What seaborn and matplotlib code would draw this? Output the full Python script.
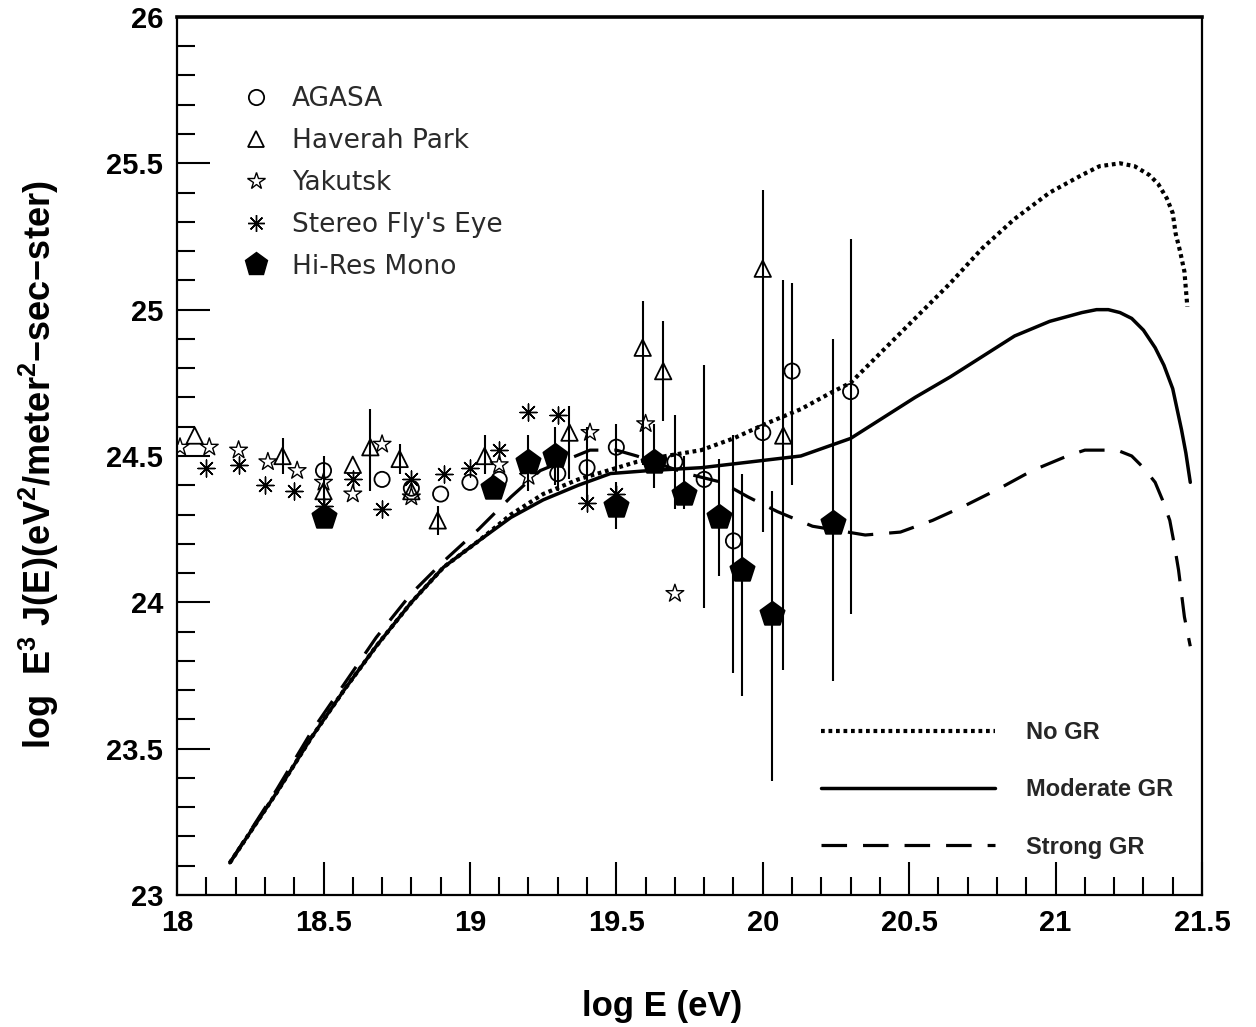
import matplotlib
matplotlib.use("Agg")
import matplotlib.pyplot as plt
from matplotlib.lines import Line2D
from matplotlib.ticker import MultipleLocator
import seaborn as sns

# ---- data ----
# AGASA (open circles)
agasa_x = [18.50, 18.70, 18.80, 18.90, 19.00, 19.10, 19.30, 19.40, 19.50, 19.70, 19.80, 19.90, 20.00, 20.10, 20.30]
agasa_y = [24.45, 24.42, 24.39, 24.37, 24.41, 24.42, 24.44, 24.46, 24.53, 24.48, 24.42, 24.21, 24.58, 24.79, 24.72]
agasa_lo = [24.33, 24.42, 24.39, 24.37, 24.41, 24.42, 24.38, 24.33, 24.44, 24.32, 23.98, 23.76, 24.24, 24.40, 23.96]
agasa_hi = [24.50, 24.42, 24.39, 24.37, 24.41, 24.42, 24.50, 24.60, 24.61, 24.64, 24.81, 24.57, 24.90, 25.09, 25.24]

# Haverah Park (open triangles)
hp_x = [18.06, 18.36, 18.50, 18.60, 18.66, 18.76, 18.80, 18.89, 19.05, 19.34, 19.59, 19.66, 20.00, 20.07]
hp_y = [24.57, 24.50, 24.38, 24.47, 24.53, 24.49, 24.38, 24.28, 24.50, 24.58, 24.87, 24.79, 25.14, 24.57]
hp_lo = [24.57, 24.44, 24.38, 24.47, 24.38, 24.44, 24.38, 24.23, 24.44, 24.42, 24.47, 24.62, 24.90, 23.77]
hp_hi = [24.57, 24.56, 24.38, 24.47, 24.66, 24.54, 24.38, 24.33, 24.57, 24.67, 25.03, 24.96, 25.41, 25.10]

# Yakutsk (open stars)
yk_x = [18.01, 18.11, 18.21, 18.31, 18.41, 18.50, 18.60, 18.70, 18.80, 19.10, 19.20, 19.41, 19.60, 19.70]
yk_y = [24.53, 24.53, 24.52, 24.48, 24.45, 24.41, 24.37, 24.54, 24.36, 24.47, 24.43, 24.58, 24.61, 24.03]

# Stereo Fly's Eye (asterisks)
fe_x = [18.10, 18.21, 18.30, 18.40, 18.50, 18.60, 18.70, 18.80, 18.91, 19.00, 19.10, 19.20, 19.30, 19.40, 19.50]
fe_y = [24.46, 24.47, 24.40, 24.38, 24.33, 24.42, 24.32, 24.42, 24.44, 24.46, 24.52, 24.65, 24.64, 24.34, 24.37]

# Hi-Res Mono (filled pentagons)
hr_x = [18.50, 19.08, 19.20, 19.29, 19.50, 19.63, 19.73, 19.85, 19.93, 20.03, 20.24]
hr_y = [24.29, 24.39, 24.48, 24.50, 24.33, 24.48, 24.37, 24.29, 24.11, 23.96, 24.27]
hr_lo = [24.29, 24.39, 24.38, 24.40, 24.25, 24.39, 24.32, 24.09, 23.68, 23.39, 23.73]
hr_hi = [24.29, 24.39, 24.57, 24.60, 24.41, 24.61, 24.50, 24.49, 24.44, 24.38, 24.90]

# model curves
nogr_x = [18.18, 18.34, 18.46, 18.57, 18.68, 18.80, 18.91, 19.03, 19.14, 19.25, 19.37, 19.47, 19.57,
          19.67, 19.79, 19.90, 20.01, 20.13, 20.24, 20.30, 20.41, 20.52, 20.64, 20.75, 20.86, 20.98,
          21.09, 21.15, 21.22, 21.27, 21.32, 21.35, 21.38, 21.40, 21.41, 21.425, 21.44, 21.45]
nogr_y = [23.11, 23.35, 23.54, 23.70, 23.85, 24.00, 24.12, 24.21, 24.30, 24.37, 24.42, 24.45, 24.48,
          24.50, 24.52, 24.56, 24.61, 24.66, 24.72, 24.75, 24.86, 24.97, 25.09, 25.21, 25.31, 25.40,
          25.46, 25.49, 25.50, 25.49, 25.46, 25.43, 25.38, 25.33, 25.26, 25.20, 25.13, 25.01]

mod_x = [18.18, 18.34, 18.46, 18.57, 18.68, 18.80, 18.91, 19.03, 19.14, 19.25, 19.37, 19.48, 19.61,
         19.79, 19.96, 20.13, 20.30, 20.41, 20.52, 20.64, 20.75, 20.86, 20.98, 21.09, 21.14, 21.18,
         21.22, 21.26, 21.30, 21.34, 21.37, 21.40, 21.415, 21.43, 21.445, 21.46]
mod_y = [23.11, 23.35, 23.54, 23.70, 23.85, 24.00, 24.12, 24.21, 24.29, 24.35, 24.40, 24.44, 24.45,
         24.46, 24.48, 24.50, 24.56, 24.63, 24.70, 24.77, 24.84, 24.91, 24.96, 24.99, 25.00, 25.00,
         24.99, 24.97, 24.93, 24.87, 24.81, 24.73, 24.66, 24.59, 24.51, 24.41]

strong_x = [18.18, 18.34, 18.46, 18.57, 18.68, 18.80, 18.91, 19.03, 19.14, 19.24, 19.41, 19.50, 19.57,
            19.74, 19.86, 19.95, 20.05, 20.17, 20.35, 20.47, 20.58, 20.69, 20.81, 20.92, 21.04, 21.10,
            21.16, 21.21, 21.26, 21.30, 21.34, 21.365, 21.39, 21.405, 21.42, 21.43, 21.44, 21.46]
strong_y = [23.11, 23.36, 23.56, 23.72, 23.88, 24.03, 24.14, 24.25, 24.36, 24.45, 24.52, 24.52, 24.50,
            24.44, 24.41, 24.36, 24.31, 24.26, 24.23, 24.24, 24.28, 24.33, 24.39, 24.45, 24.50, 24.52,
            24.52, 24.52, 24.50, 24.46, 24.41, 24.35, 24.28, 24.20, 24.11, 24.03, 23.95, 23.85]

x_ticks = [18, 18.5, 19, 19.5, 20, 20.5, 21, 21.5]
x_tick_labels = ["18", "18.5", "19", "19.5", "20", "20.5", "21", "21.5"]
y_ticks = [23, 23.5, 24, 24.5, 25, 25.5, 26]
y_tick_labels = ["23", "23.5", "24", "24.5", "25", "25.5", "26"]

# ---- style ----
sns.set_theme(style="ticks")
plt.rcParams["font.family"] = ["Liberation Sans", "DejaVu Sans"]
plt.rcParams["mathtext.fontset"] = "custom"
plt.rcParams["mathtext.bf"] = "Liberation Sans:bold"
plt.rcParams["mathtext.rm"] = "Liberation Sans:bold"

fig = plt.figure(figsize=(12.56, 10.27), dpi=100)
ax = fig.add_axes([0.141, 0.1285, 0.816, 0.855])

# model curves
sns.lineplot(x=nogr_x, y=nogr_y, ax=ax, color="black", lw=3.0, linestyle=(0, (0.9, 0.9)),
             sort=False, label="No GR")
sns.lineplot(x=mod_x, y=mod_y, ax=ax, color="black", lw=2.5, linestyle="-",
             sort=False, label="Moderate GR")
sns.lineplot(x=strong_x, y=strong_y, ax=ax, color="black", lw=2.3, linestyle=(0, (8, 5)),
             sort=False, label="Strong GR")
curve_handles = ax.get_legend_handles_labels()
ax.get_legend().remove()

# error bars
ax.vlines(agasa_x, agasa_lo, agasa_hi, color="black", lw=1.5)
ax.vlines(hp_x, hp_lo, hp_hi, color="black", lw=1.5)
ax.vlines(hr_x, hr_lo, hr_hi, color="black", lw=1.5)

# data points
sns.scatterplot(x=agasa_x, y=agasa_y, ax=ax, marker="o", s=120, facecolor="none",
                edgecolor="black", linewidth=1.3, zorder=5)
sns.scatterplot(x=hp_x, y=hp_y, ax=ax, marker="^", s=140, facecolor="none",
                edgecolor="black", linewidth=1.3, zorder=5)
sns.scatterplot(x=yk_x, y=yk_y, ax=ax, marker="*", s=180, facecolor="none",
                edgecolor="black", linewidth=1.0, zorder=5)
sns.scatterplot(x=fe_x, y=fe_y, ax=ax, marker=(8, 2, 0), s=150, color="black",
                linewidth=1.0, zorder=5)
sns.scatterplot(x=hr_x, y=hr_y, ax=ax, marker="p", s=330, color="black",
                edgecolor="black", zorder=6)

# axes
ax.set_xlim(18, 21.5)
ax.set_ylim(23, 26)
ax.set_xticks(x_ticks)
ax.set_xticklabels(x_tick_labels)
ax.set_yticks(y_ticks)
ax.set_yticklabels(y_tick_labels)
ax.xaxis.set_minor_locator(MultipleLocator(0.1))
ax.yaxis.set_minor_locator(MultipleLocator(0.1))
ax.tick_params(which="major", direction="in", length=24, width=1.5, color="black",
               labelsize=21, labelcolor="black", pad=10, top=False, right=False)
ax.tick_params(which="minor", direction="in", length=13, width=1.5, color="black",
               top=False, right=False)
for lab in ax.get_xticklabels() + ax.get_yticklabels():
    lab.set_fontweight("bold")
for side in ["left", "bottom", "right"]:
    ax.spines[side].set_linewidth(1.6)
    ax.spines[side].set_color("black")
ax.spines["top"].set_linewidth(2.6)
ax.spines["top"].set_color("black")

ax.set_xlabel("log E (eV)", fontsize=25, fontweight="bold", color="black")
ax.xaxis.set_label_coords(0.473, -0.108)
ax.set_ylabel(r"log  $\mathbf{E^{3}}$ J(E)(eV$^{\mathbf{2}}$/meter$^{\mathbf{2}}$−sec−ster)",
              fontsize=26, fontweight="bold", va="center", color="black")
ax.yaxis.set_label_coords(-0.135, 0.49)

# marker legend (upper left)
mk = [
    Line2D([], [], ls="none", marker="o", ms=11, mfc="none", mec="black", mew=1.3),
    Line2D([], [], ls="none", marker="^", ms=12, mfc="none", mec="black", mew=1.3),
    Line2D([], [], ls="none", marker="*", ms=13, mfc="none", mec="black", mew=1.0),
    Line2D([], [], ls="none", marker=(8, 2, 0), ms=12, color="black", mew=1.0),
    Line2D([], [], ls="none", marker="p", ms=17, color="black"),
]
leg1 = ax.legend(mk, ["AGASA", "Haverah Park", "Yakutsk", "Stereo Fly's Eye", "Hi-Res Mono"],
                 loc="upper left", bbox_to_anchor=(0.062, 0.921), frameon=False,
                 prop={"family": "DejaVu Sans", "size": 19}, labelcolor="#2a2a2a",
                 handlelength=1.2, handletextpad=0.75, labelspacing=0.6,
                 borderpad=0, borderaxespad=0)
ax.add_artist(leg1)

# curve legend (lower right)
ax.legend(curve_handles[0], curve_handles[1], loc="upper left",
          bbox_to_anchor=(0.628, 0.198), frameon=False,
          prop={"family": "Liberation Sans", "weight": "bold", "size": 17},
          handlelength=7.4, handletextpad=1.3, labelspacing=1.45,
          borderpad=0, borderaxespad=0)

fig.savefig("out.png", dpi=100)
plt.close(fig)
